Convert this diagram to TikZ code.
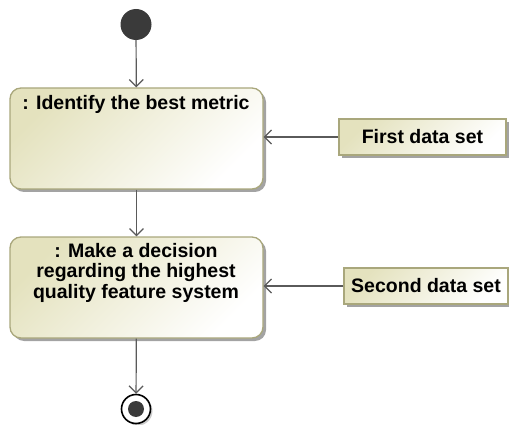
\documentclass[tikz,border=0pt]{standalone}
\usepackage{fontspec}
\setmainfont{Liberation Sans}
\usetikzlibrary{arrows.meta,shadows}
\definecolor{actfill}{HTML}{E4E2BE}
\definecolor{actborder}{HTML}{A9A77C}
\definecolor{linegray}{HTML}{5A5A5A}
\definecolor{dotgray}{HTML}{3A3A3A}
\tikzset{
  actbox/.style={draw=actborder, line width=1.3pt, rounded corners=11pt,
    top color=actfill, bottom color=white, shading angle=45,
    minimum width=253pt, minimum height=101pt, inner sep=0pt,
    drop shadow={shadow xshift=3pt, shadow yshift=-3pt, fill=black!60, opacity=0.6}},
  databox/.style={draw=actborder, line width=1.3pt,
    top color=actfill, bottom color=white, shading angle=45,
    minimum height=36pt, inner sep=0pt, font=\bfseries\fontsize{19.5}{20.5}\selectfont,
    drop shadow={shadow xshift=3pt, shadow yshift=-3pt, fill=black!60, opacity=0.6}},
  acttext/.style={font=\bfseries\fontsize{19.5}{20.5}\selectfont, align=center, inner sep=0pt},
  flow/.style={draw=linegray, line width=1.2pt, -{Straight Barb[length=7pt,width=14pt,line width=1.2pt]}},
}
\begin{document}
\begin{tikzpicture}[x=1pt,y=-1pt]
\useasboundingbox (0,0) rectangle (509,425);
% initial node
\node[circle, fill=dotgray, minimum size=31pt, inner sep=0pt] (init) at (136,24.5) {};
% actions
\node[actbox] (a1) at (136.5,138.5) {};
\node[acttext, anchor=north] (a1t) at (136,95) {: Identify the best metric};
\node[actbox] (a2) at (136.5,287.5) {};
\node[acttext, anchor=north] (a2t) at (136,243) {: Make a decision\\regarding the highest\\quality feature system};
% final node
\node[circle, draw=black, line width=1.6pt, fill=white, minimum size=29pt, inner sep=0pt,
  drop shadow={shadow xshift=2pt, shadow yshift=-2pt, fill=black!40, opacity=0.5}] (fin) at (136,409) {};
\node[circle, fill=dotgray, minimum size=16pt, inner sep=0pt] (findot) at (fin) {};
% data sets
\node[databox, minimum width=167pt] (d1) at (422.5,137) {First data set};
\node[databox, minimum width=164pt] (d2) at (426,286) {Second data set};
% flows
\draw[flow] (init) -- (a1);
\draw[flow] (a1) -- (a2);
\draw[flow] (a2) -- (fin);
\draw[flow] (d1.west) -- (a1.east |- d1.west);
\draw[flow] (d2.west) -- (a2.east |- d2.west);
\end{tikzpicture}
\end{document}
